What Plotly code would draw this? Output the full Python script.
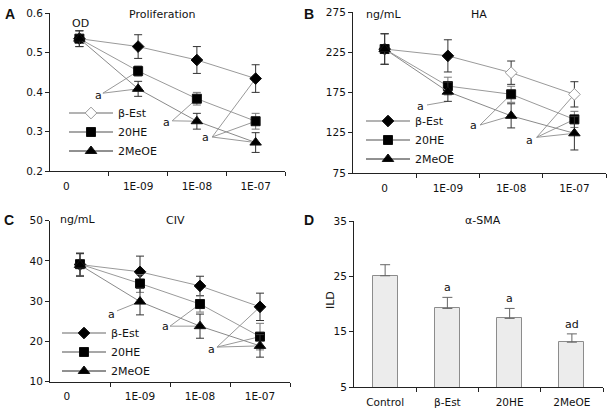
import plotly.graph_objects as go

# ---------------- data ----------------
dose_labels = ["0", "1E-09", "1E-08", "1E-07"]
dose_pos = [0, 1, 2, 3]
series_names = ["β-Est", "20HE", "2MeOE"]

prolif_best = [0.535, 0.515, 0.481, 0.434]
prolif_best_err = [0.020, 0.030, 0.034, 0.035]
prolif_20he = [0.535, 0.453, 0.383, 0.326]
prolif_20he_err = [0.020, 0.013, 0.016, 0.020]
prolif_2meoe = [0.535, 0.408, 0.326, 0.272]
prolif_2meoe_err = [0.020, 0.019, 0.020, 0.025]

ha_best = [229, 220.5, 199.6, 172.7]
ha_best_err = [19, 20, 14.5, 15.7]
ha_20he = [229, 183, 172.8, 141.6]
ha_20he_err = [19, 11, 10, 10]
ha_2meoe = [229, 176, 146, 124.3]
ha_2meoe_err = [19, 12, 15, 20.7]

civ_best = [39.1, 37.3, 33.8, 28.6]
civ_best_err = [2.8, 3.9, 2.4, 3.4]
civ_20he = [39.2, 34.4, 29.3, 21.2]
civ_20he_err = [2.8, 2.2, 2.0, 3.3]
civ_2meoe = [39.0, 29.9, 23.8, 18.9]
civ_2meoe_err = [2.8, 3.3, 3.0, 2.8]

sma_labels = ["Control", "β-Est", "20HE", "2MeOE"]
sma_vals = [25.1, 19.2, 17.4, 13.1]
sma_err = [2.0, 2.0, 1.8, 1.5]
sma_sig = ["", "a", "a", "ad"]

FONT = "DejaVu Sans"
fig = go.Figure()

symbols = ["diamond", "square", "triangle-up"]
sizes = [9, 9, 10]
line_cols = ["#9a9a9a", "#9a9a9a", "#8a8a8a"]
err_cols = ["#333333", "#777777", "#333333"]
leg_line_cols = ["#9a9a9a", "#8a8a8a", "#222222"]


def add_panel(xa, ya, legend, data, fills, legend_fill):
    for i, (vals, errs) in enumerate(data):
        edge = ["#111111" if c == "black" else "#999999" for c in fills[i]]
        fig.add_trace(go.Scatter(
            x=dose_pos, y=vals, mode="lines+markers", xaxis=xa, yaxis=ya,
            line=dict(color=line_cols[i], width=1),
            marker=dict(symbol=symbols[i], size=sizes[i], color=fills[i],
                        line=dict(color=edge, width=1)),
            error_y=dict(type="data", array=errs, color=err_cols[i],
                         thickness=1, width=4),
            showlegend=False, cliponaxis=False))
    for i, name in enumerate(series_names):
        fc = legend_fill if i == 0 else "black"
        fig.add_trace(go.Scatter(
            x=[None], y=[None], mode="lines+markers", name=name, xaxis=xa, yaxis=ya,
            line=dict(color=leg_line_cols[i], width=1.5 if i < 2 else 1),
            marker=dict(symbol=symbols[i], size=sizes[i], color=fc,
                        line=dict(color="#999999" if fc == "white" else "#111111", width=1)),
            legend=legend, showlegend=True))


blk = ["black"] * 4
add_panel("x", "y", "legend",
          [(prolif_best, prolif_best_err), (prolif_20he, prolif_20he_err),
           (prolif_2meoe, prolif_2meoe_err)], [blk, blk, blk], "white")
add_panel("x2", "y2", "legend2",
          [(ha_best, ha_best_err), (ha_20he, ha_20he_err),
           (ha_2meoe, ha_2meoe_err)],
          [["black", "black", "white", "white"], blk, blk], "black")
add_panel("x3", "y3", "legend3",
          [(civ_best, civ_best_err), (civ_20he, civ_20he_err),
           (civ_2meoe, civ_2meoe_err)], [blk, blk, blk], "black")

# panel D bars (bars are clipped at the axis minimum of 5)
fig.add_trace(go.Bar(
    x=dose_pos, y=sma_vals, width=0.4, xaxis="x4", yaxis="y4",
    marker=dict(color="#ececec", line=dict(color="#8c8c8c", width=1)),
    error_y=dict(type="data", symmetric=False, array=sma_err,
                 arrayminus=[0] * 4, color="#666666", thickness=1, width=5),
    showlegend=False))

annotations = []
shapes = []


def pointer(xa, ya, label_xy, start_xy, targets):
    annotations.append(dict(x=label_xy[0], y=label_xy[1], xref=xa, yref=ya, text="a",
                            showarrow=False, font=dict(size=11, color="#111", family=FONT)))
    for (tx, ty) in targets:
        shapes.append(dict(type="line", xref=xa, yref=ya, x0=start_xy[0], y0=start_xy[1],
                           x1=tx, y1=ty, line=dict(color="#999999", width=1), layer="below"))


pointer("x", "y", (0.317, 0.392), (0.40, 0.397),
        [(1, prolif_20he[1]), (1, prolif_2meoe[1])])
pointer("x", "y", (1.49, 0.324), (1.58, 0.327),
        [(2, prolif_20he[2]), (2, prolif_2meoe[2])])
pointer("x", "y", (2.14, 0.284), (2.26, 0.286),
        [(3, prolif_best[3]), (3, prolif_20he[3]), (3, prolif_2meoe[3])])

pointer("x2", "y2", (0.575, 158), (0.67, 159.5),
        [(1, ha_2meoe[1] - ha_2meoe_err[1])])
pointer("x2", "y2", (1.413, 133.4), (1.508, 134.6),
        [(2, ha_20he[2]), (2, ha_2meoe[2])])
pointer("x2", "y2", (2.298, 114.8), (2.404, 119.3),
        [(3, ha_best[3]), (3, ha_20he[3]), (3, ha_2meoe[3])])

pointer("x3", "y3", (0.528, 26.7), (0.617, 27.6),
        [(1, civ_2meoe[1])])
pointer("x3", "y3", (1.417, 23.6), (1.5, 23.8),
        [(2, civ_20he[2]), (2, civ_2meoe[2])])
pointer("x3", "y3", (2.195, 18.1), (2.283, 18.6),
        [(3, civ_best[3]), (3, civ_20he[3]), (3, civ_2meoe[3])])

for i, s in enumerate(sma_sig):
    if s:
        annotations.append(dict(x=dose_pos[i], y=sma_vals[i] + sma_err[i], xref="x4", yref="y4",
                                text=s, showarrow=False, yanchor="bottom", yshift=1,
                                font=dict(size=11, color="#111", family=FONT)))


def ptxt(x, y, text, size=11, bold=False, angle=0):
    annotations.append(dict(x=x / 612, y=1 - y / 410, xref="paper", yref="paper",
                            text=f"<b>{text}</b>" if bold else text, showarrow=False,
                            textangle=angle, xanchor="center", yanchor="middle",
                            font=dict(size=size, color="#111",
                                      family=FONT if not bold else "Liberation Sans")))


ptxt(10, 14, "A", 14, True)
ptxt(309, 14, "B", 14, True)
ptxt(9, 220, "C", 14, True)
ptxt(309, 220, "D", 14, True)
ptxt(162, 14, "Proliferation")
ptxt(80, 23, "OD")
ptxt(479, 14, "HA")
ptxt(383, 14, "ng/mL")
ptxt(175, 220, "CIV")
ptxt(77, 219, "ng/mL")
ptxt(483, 220, "α-SMA")
ptxt(330, 300, "ILD", 11, False, -90)

axis_common = dict(showline=True, linecolor="#222", linewidth=1, showgrid=False,
                   zeroline=False, tickfont=dict(size=10.5, color="#111", family=FONT))
yax = dict(axis_common, ticks="outside", ticklen=4, tickcolor="#222")


def xax(labels, vals, anchor, domain):
    return dict(axis_common, range=[-0.5, 3.5], domain=domain, anchor=anchor,
                tickmode="array", tickvals=vals, ticktext=labels, ticks="",
                ticklabelstandoff=5,
                minor=dict(tickmode="array", tickvals=[0.5, 1.5, 2.5, 3.5], ticks="outside",
                           ticklen=4, tickcolor="#222", showgrid=False))


shift_vals = [-0.22, 1, 2, 3]
leg_common = dict(xanchor="left", yanchor="top", bgcolor="rgba(0,0,0,0)",
                  font=dict(size=11, family=FONT), tracegroupgap=0, itemwidth=44)

fig.update_layout(
    width=612, height=410, margin=dict(l=0, r=0, t=0, b=0, autoexpand=False),
    paper_bgcolor="white", plot_bgcolor="white",
    font=dict(family=FONT, size=11, color="#111"),
    xaxis=xax(dose_labels, shift_vals, "y", [50 / 612, 285 / 612]),
    yaxis=dict(yax, range=[0.2, 0.6], tickvals=[0.2, 0.3, 0.4, 0.5, 0.6], tickformat=".1f",
               domain=[1 - 171 / 410, 1 - 13 / 410], anchor="x"),
    xaxis2=xax(dose_labels, dose_pos, "y2", [353 / 612, 606 / 612]),
    yaxis2=dict(yax, range=[75, 275], tickvals=[75, 125, 175, 225, 275],
                domain=[1 - 173 / 410, 1 - 12 / 410], anchor="x2"),
    xaxis3=xax(dose_labels, shift_vals, "y3", [50 / 612, 290 / 612]),
    yaxis3=dict(yax, range=[10, 50], tickvals=[10, 20, 30, 40, 50],
                domain=[1 - 381.7 / 410, 1 - 220.7 / 410], anchor="x3"),
    xaxis4=xax(sma_labels, dose_pos, "y4", [354 / 612, 603 / 612]),
    yaxis4=dict(yax, range=[5, 35], tickvals=[5, 15, 25, 35],
                domain=[1 - 387 / 410, 1 - 221 / 410], anchor="x4"),
    legend=dict(leg_common, x=64 / 612, y=1 - 98.5 / 410),
    legend2=dict(leg_common, x=361 / 612, y=1 - 106.5 / 410),
    legend3=dict(leg_common, x=57 / 612, y=1 - 318.5 / 410),
    annotations=annotations, shapes=shapes, bargap=0,
)

fig.write_html("out.html", config={"displayModeBar": False},
               post_script="document.body.style.margin='0';document.body.style.padding='0';")
